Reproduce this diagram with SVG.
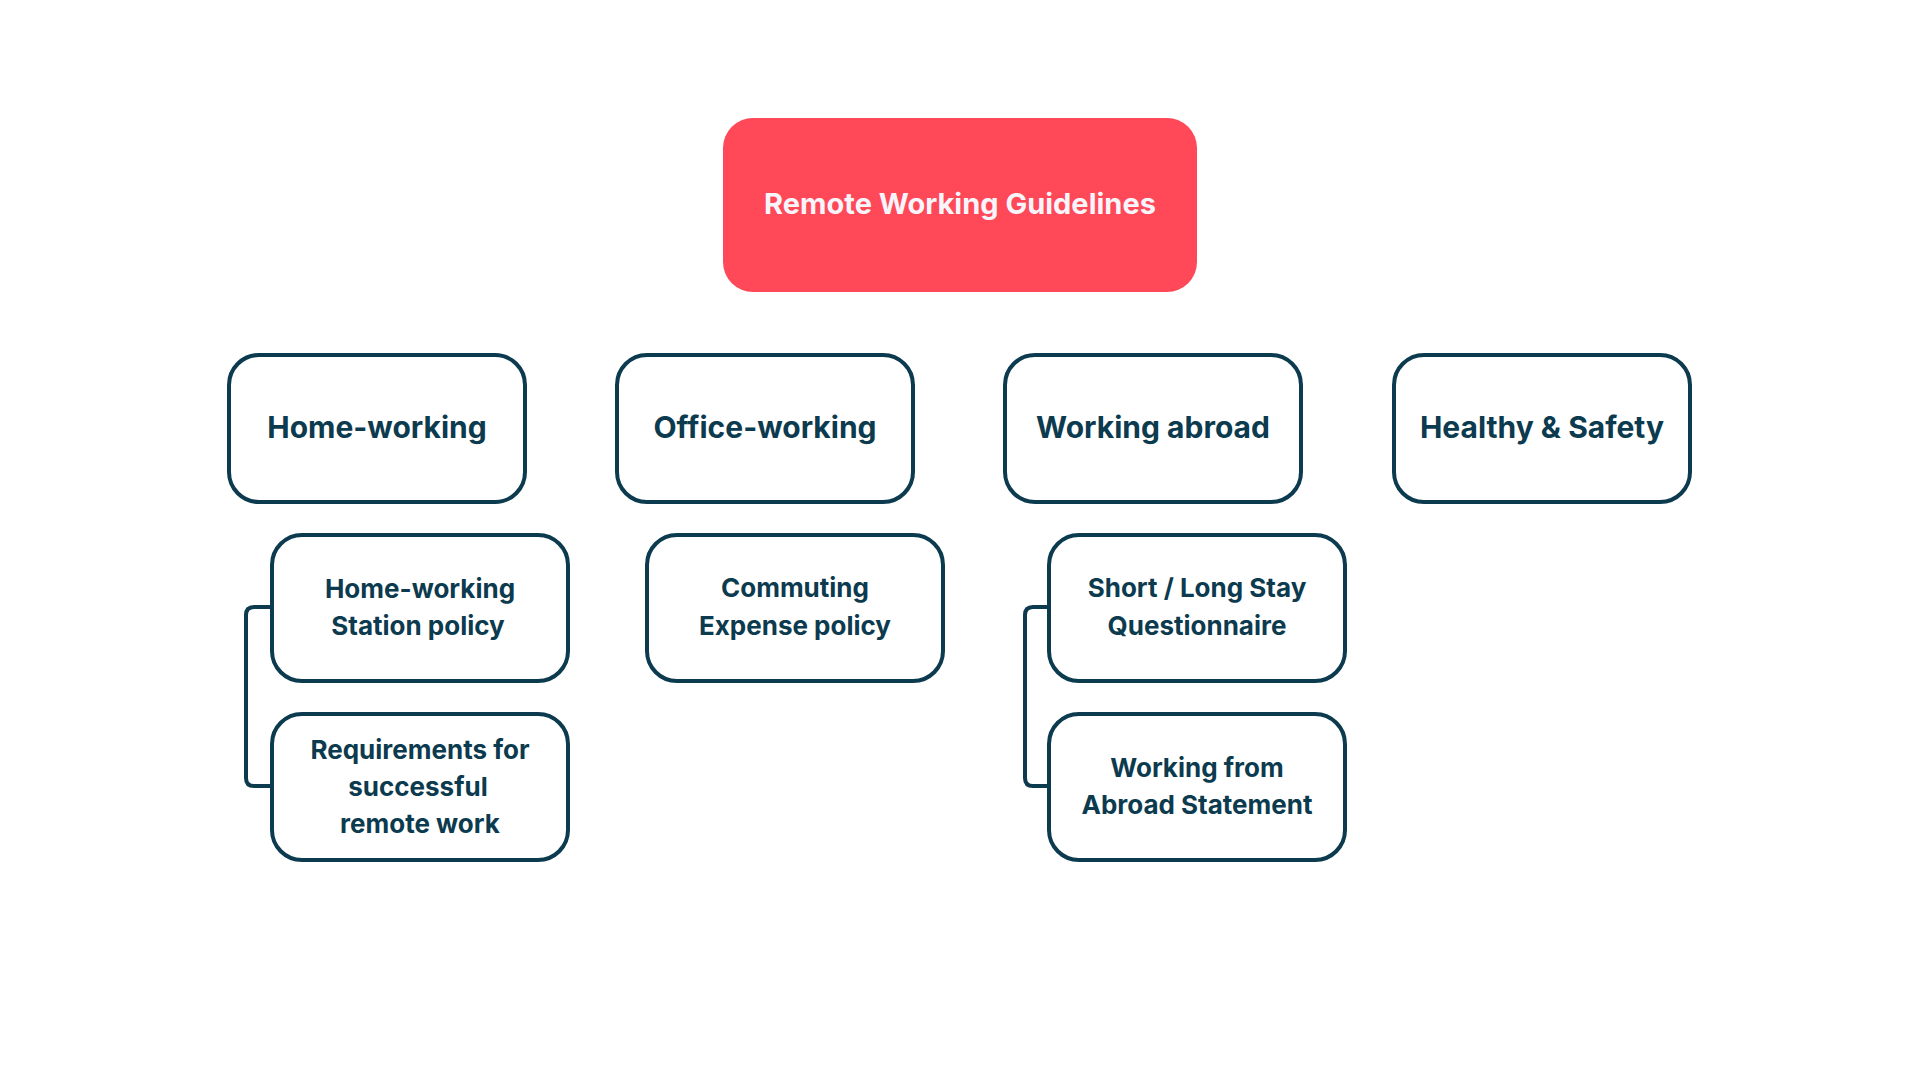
<svg xmlns="http://www.w3.org/2000/svg" width="1920" height="1080" viewBox="0 0 1920 1080">
<style>
.box{fill:#FFFFFF;stroke:#0C3A4E;stroke-width:4}
.t{font-family:Inter,"Liberation Sans",sans-serif;font-weight:700;fill:#0C3A4E;text-anchor:middle}
.main{font-size:30px}
.sub{font-size:26px}
.root{font-family:Inter,"Liberation Sans",sans-serif;font-weight:700;font-size:29px;fill:#F8F5FA;text-anchor:middle}
.conn{fill:none;stroke:#0C3A4E;stroke-width:4}
</style>
<rect width="1920" height="1080" fill="#FFFFFF"/>
<g id="connectors">
<path class="conn" d="M272,607 H254 Q246,607 246,615 V778 Q246,786 254,786 H272"/>
<path class="conn" d="M1049,607 H1033 Q1025,607 1025,615 V778 Q1025,786 1033,786 H1049"/>
</g>
<g id="root">
<rect x="723" y="118" width="474" height="174" rx="30" fill="#FF4858"/>
<text class="root" x="960" y="214">Remote Working Guidelines</text>
</g>
<g id="home-working">
<rect class="box" x="229" y="355" width="296" height="147" rx="30"/>
<text class="t main" x="377" y="438">Home-working</text>
</g>
<g id="office-working">
<rect class="box" x="617" y="355" width="296" height="147" rx="30"/>
<text class="t main" x="765" y="438">Office-working</text>
</g>
<g id="working-abroad">
<rect class="box" x="1005" y="355" width="296" height="147" rx="30"/>
<text class="t main" x="1153" y="438">Working abroad</text>
</g>
<g id="healthy-safety">
<rect class="box" x="1394" y="355" width="296" height="147" rx="30"/>
<text class="t main" x="1542" y="438">Healthy &amp; Safety</text>
</g>
<g id="home-station-policy">
<rect class="box" x="272" y="535" width="296" height="146" rx="30"/>
<text class="t sub" x="420" y="598">Home-working</text>
<text class="t sub" x="418" y="635">Station policy</text>
</g>
<g id="requirements">
<rect class="box" x="272" y="714" width="296" height="146" rx="30"/>
<text class="t sub" x="420" y="759">Requirements for</text>
<text class="t sub" x="418" y="796">successful</text>
<text class="t sub" x="420" y="833">remote work</text>
</g>
<g id="commuting">
<rect class="box" x="647" y="535" width="296" height="146" rx="30"/>
<text class="t sub" x="795" y="597">Commuting</text>
<text class="t sub" x="795" y="635">Expense policy</text>
</g>
<g id="short-long-stay">
<rect class="box" x="1049" y="535" width="296" height="146" rx="30"/>
<text class="t sub" x="1197" y="597">Short / Long Stay</text>
<text class="t sub" x="1197" y="635">Questionnaire</text>
</g>
<g id="working-from-abroad">
<rect class="box" x="1049" y="714" width="296" height="146" rx="30"/>
<text class="t sub" x="1197" y="777">Working from</text>
<text class="t sub" x="1197" y="814">Abroad Statement</text>
</g>
</svg>
